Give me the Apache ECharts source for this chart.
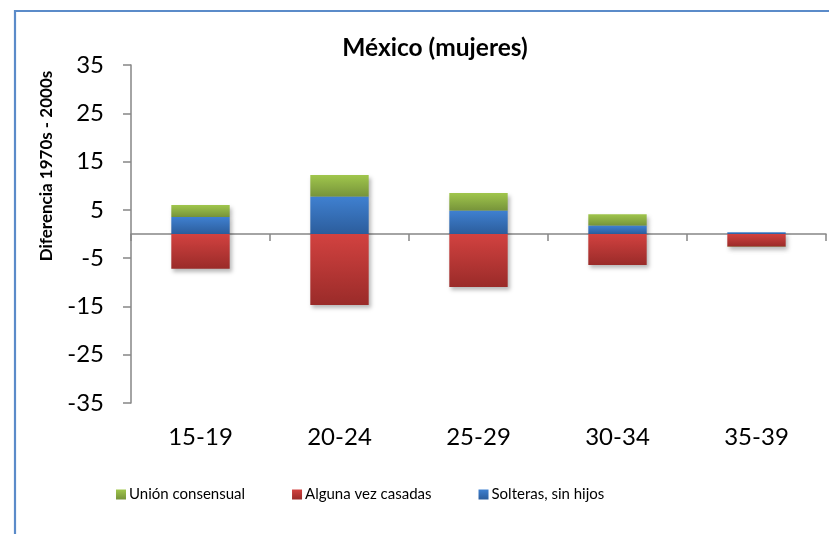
<!DOCTYPE html>
<html><head><meta charset="utf-8">
<script src="https://cdn.jsdelivr.net/npm/echarts@6/dist/echarts.min.js"></script>
<style>html,body{margin:0;padding:0;background:#fff}#c{width:829px;height:534px}</style>
</head><body><div id="c"></div>
<script>
const categories = ['15-19','20-24','25-29','30-34','35-39'];
const solteras = [3.5, 7.7, 4.8, 1.7, 0.35];
const alguna = [-7.2, -14.7, -11.0, -6.4, -2.6];
const union = [2.5, 4.5, 3.7, 2.4, -0.1];
const yTicks = [-35, 35, 10];

const F = 'Lato, "Open Sans", sans-serif';
function grad(top, bottom){
  return new echarts.graphic.LinearGradient(0,0,0,1,[{offset:0,color:top},{offset:1,color:bottom}]);
}
const shadow = {shadowBlur:4, shadowOffsetX:2, shadowOffsetY:3, shadowColor:'rgba(0,0,0,0.28)'};
const chart = echarts.init(document.getElementById('c'), null, {renderer:'canvas'});
chart.setOption({
  animation:false,
  backgroundColor:'#fff',
  title:{text:'México (mujeres)', left:430, textAlign:'center', top:31,
    textStyle:{fontFamily:F, fontSize:24.5, fontWeight:'bold', color:'#000'}},
  graphic:[
    {type:'polyline', shape:{points:[[15,540],[15,11],[840,11]]}, style:{stroke:'#5b8bc9', lineWidth:2.2, fill:null}, silent:true},
    {type:'text', x:47, y:166, rotation:Math.PI/2, style:{text:'Diferencia 1970s - 2000s', fontFamily:F, fontSize:17, fontWeight:'bold', fill:'#000', align:'center', verticalAlign:'middle'}}
  ],
  legend:{left:111, top:482, itemWidth:10, itemHeight:10, itemGap:47, icon:'rect',
    data:['Unión consensual','Alguna vez casadas','Solteras, sin hijos'],
    textStyle:{fontFamily:F, fontSize:15, color:'#000', padding:[0,0,0,-2]}},
  grid:{left:131, right:3, top:65, bottom:131, containLabel:false},
  xAxis:[{type:'category', data:categories,
    axisLine:{onZero:true, lineStyle:{color:'#868686', width:1.5}},
    axisTick:{show:true, alignWithLabel:false, length:7, lineStyle:{color:'#868686', width:1.5}},
    axisLabel:{show:false}},
    {type:'category', data:categories, position:'bottom', offset:0,
    axisLine:{show:false}, axisTick:{show:false},
    axisLabel:{fontFamily:F, fontSize:24, color:'#000', margin:22}}],
  yAxis:{type:'value', min:yTicks[0], max:yTicks[1], interval:yTicks[2],
    axisLine:{show:true, lineStyle:{color:'#868686', width:1.5}},
    axisTick:{show:true, length:8, lineStyle:{color:'#868686', width:1.5}},
    splitLine:{show:false},
    axisLabel:{fontFamily:F, fontSize:24, color:'#000', margin:27}},
  series:[
    {name:'Solteras, sin hijos', type:'bar', stack:'s', data:solteras, barCategoryGap:'58%', z:3,
      itemStyle:Object.assign({color:grad('#3f80d0','#2c5d9c')}, shadow)},
    {name:'Alguna vez casadas', type:'bar', stack:'s', data:alguna, z:4,
      itemStyle:Object.assign({color:grad('#d24240','#9a2b29')}, shadow)},
    {name:'Unión consensual', type:'bar', stack:'s', data:union, z:2,
      itemStyle:Object.assign({color:grad('#a0c64c','#76933a')}, shadow)}
  ]
});
</script></body></html>
